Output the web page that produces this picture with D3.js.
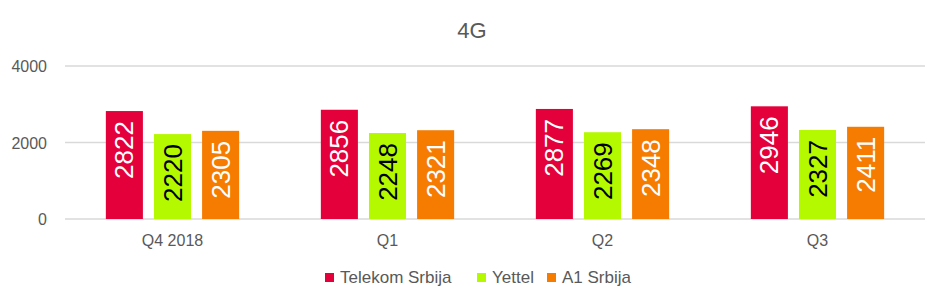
<!DOCTYPE html>
<html>
<head>
<meta charset="utf-8">
<script src="https://cdn.jsdelivr.net/npm/d3@7"></script>
<style>
  body { margin: 0; background: #fff; }
  text { font-family: "Liberation Sans", Arial, sans-serif; }
</style>
</head>
<body>
<div id="chart"></div>
<script>
// Data
var categories = ["Q4 2018", "Q1", "Q2", "Q3"];
var seriesNames = ["Telekom Srbija", "Yettel", "A1 Srbija"];
var telekom = [2822, 2856, 2877, 2946];
var yettel = [2220, 2248, 2269, 2327];
var a1 = [2305, 2321, 2348, 2411];
var yTicks = [0, 2000, 4000];

var colors = ["#E4003A", "#B5F900", "#F57C00"];
var labelColors = ["#fff", "#000", "#fff"];
var seriesValues = [telekom, yettel, a1];

var W = 945, H = 304;
var margin = { left: 65, right: 20, top: 66, bottom: 85 };

var svg = d3.select("#chart")
  .append("svg")
  .attr("width", W)
  .attr("height", H);

var x = d3.scaleBand()
  .domain(categories)
  .range([margin.left, W - margin.right])
  .paddingInner(0)
  .paddingOuter(0);

var xInner = d3.scaleBand()
  .domain(seriesNames)
  .range([0, x.bandwidth() * 0.62])
  .paddingInner(0.23);

var y = d3.scaleLinear()
  .domain([0, 4000])
  .range([H - margin.bottom, margin.top]);

// Title
svg.append("text")
  .attr("x", 472)
  .attr("y", 38)
  .attr("text-anchor", "middle")
  .style("font-size", "22px")
  .style("fill", "#595959")
  .text("4G");

// Gridlines and y labels
svg.selectAll(".grid")
  .data(yTicks)
  .enter()
  .append("line")
  .attr("x1", margin.left)
  .attr("x2", W - margin.right)
  .attr("y1", d => y(d))
  .attr("y2", d => y(d))
  .style("stroke", "#D9D9D9")
  .style("stroke-width", 1.3);

svg.selectAll(".ylab")
  .data(yTicks)
  .enter()
  .append("text")
  .attr("x", 47)
  .attr("y", d => y(d) + 6)
  .attr("text-anchor", "end")
  .style("font-size", "16px")
  .style("fill", "#595959")
  .text(d => d);

// Bars
var groups = svg.selectAll(".grp")
  .data(categories)
  .enter()
  .append("g")
  .attr("transform", d => "translate(" + (x(d) + x.bandwidth() * 0.19) + ",0)");

groups.each(function(cat, ci) {
  var g = d3.select(this);
  seriesNames.forEach(function(name, si) {
    var v = seriesValues[si][ci];
    var bx = xInner(name);
    g.append("rect")
      .attr("x", bx)
      .attr("y", y(v))
      .attr("width", xInner.bandwidth())
      .attr("height", y(0) - y(v))
      .style("fill", colors[si]);
    var cx = bx + xInner.bandwidth() / 2;
    var ty = y(v) + 10;
    g.append("text")
      .attr("transform", "translate(" + (cx + 9) + "," + ty + ") rotate(-90)")
      .attr("text-anchor", "end")
      .style("font-size", "26px")
      .style("fill", labelColors[si])
      .text(v);
  });
});

// Category labels
svg.selectAll(".xlab")
  .data(categories)
  .enter()
  .append("text")
  .attr("x", d => x(d) + x.bandwidth() / 2)
  .attr("y", 246)
  .attr("text-anchor", "middle")
  .style("font-size", "16px")
  .style("fill", "#595959")
  .text(d => d);

// Legend
var legendX = [325, 477, 547];
var legend = svg.selectAll(".leg")
  .data(seriesNames)
  .enter()
  .append("g")
  .attr("transform", (d, i) => "translate(" + legendX[i] + ",273)");

legend.append("rect")
  .attr("width", 9)
  .attr("height", 9)
  .style("fill", (d, i) => colors[i]);

legend.append("text")
  .attr("x", 15)
  .attr("y", 10)
  .style("font-size", "17px")
  .style("fill", "#595959")
  .text(d => d);
</script>
</body>
</html>
